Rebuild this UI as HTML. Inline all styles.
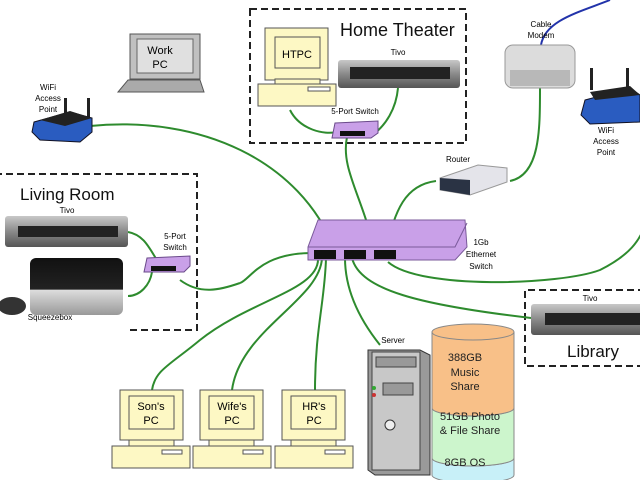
<!DOCTYPE html>
<html><head><meta charset="utf-8"><style>
html,body{margin:0;padding:0;background:#fff;}
svg{display:block;font-family:"Liberation Sans",sans-serif;}
</style></head><body>
<svg width="640" height="480" viewBox="0 0 640 480" xmlns="http://www.w3.org/2000/svg">
<defs>
<linearGradient id="tivo" x1="0" y1="0" x2="0" y2="1"><stop offset="0" stop-color="#c8c8c8"/><stop offset="0.5" stop-color="#8a8a8a"/><stop offset="1" stop-color="#555"/></linearGradient>
<linearGradient id="sq" x1="0" y1="0" x2="0" y2="1"><stop offset="0" stop-color="#111"/><stop offset="0.55" stop-color="#222"/><stop offset="0.56" stop-color="#ddd"/><stop offset="1" stop-color="#999"/></linearGradient>
</defs>
<!-- dashed boxes -->
<g fill="none" stroke="#222" stroke-width="2" stroke-dasharray="7,4">
<rect x="250" y="9" width="216" height="134"/>
<path d="M-5 174 H197 V330 H128"/>
<path d="M645 290 H525 V366 H645"/>
</g>
<!-- wires -->
<g fill="none" stroke="#2e8b2e" stroke-width="2">
<path d="M90 126 C200 115 300 160 335 250"/>
<path d="M347 137 C340 170 365 200 375 255"/>
<path d="M290 110 C300 130 325 135 336 132"/>
<path d="M398 88 C396 110 385 125 375 133"/>
<path d="M436 181 C405 185 395 210 386 250"/>
<path d="M540 88 C540 130 540 175 510 181"/>
<path d="M388 262 C420 290 560 285 600 270 C630 255 640 240 645 225"/>
<path d="M312 253 C260 253 250 280 240 283"/>
<path d="M240 283 C220 290 200 295 180 280"/>
<path d="M128 232 C145 235 150 250 160 265"/>
<path d="M128 296 C140 296 150 285 152 272"/>
<path d="M318 258 C320 290 250 300 200 340 C170 365 155 370 152 390"/>
<path d="M322 258 C320 300 240 330 232 390"/>
<path d="M326 258 C325 300 315 330 315 390"/>
<path d="M345 258 C345 290 360 320 380 345"/>
<path d="M352 258 C360 290 420 305 531 318"/>
<path d="M541 45 C545 20 580 12 610 0"  stroke="#2233aa"/>
</g>
<!-- Home theater -->
<text x="340" y="36" font-size="18" fill="#111">Home Theater</text>
<rect x="265" y="28" width="63" height="52" fill="#fdf8c4" stroke="#555"/>
<rect x="275" y="37" width="45" height="31" fill="#fdf8c4" stroke="#555"/>
<text x="297" y="58" font-size="11" text-anchor="middle">HTPC</text>
<rect x="275" y="79" width="45" height="5" fill="#fdf8c4" stroke="#555"/>
<rect x="258" y="84" width="78" height="22" fill="#fdf8c4" stroke="#555"/>
<rect x="308" y="87" width="22" height="4" fill="#fff" stroke="#555"/>
<text x="398" y="55" font-size="8" text-anchor="middle">Tivo</text>
<rect x="338" y="60" width="122" height="28" rx="3" fill="url(#tivo)"/>
<rect x="350" y="67" width="100" height="12" fill="#222"/>
<text x="355" y="114" font-size="8" text-anchor="middle">5-Port Switch</text>
<path d="M335 123 L378 121 L378 133 L371 138 L332 138 Z" fill="#c9a0e8" stroke="#6a4a8a"/>
<rect x="340" y="131" width="25" height="5" fill="#111"/>
<!-- Cable modem -->
<text x="541" y="27" font-size="8" text-anchor="middle">Cable</text>
<text x="541" y="38" font-size="8" text-anchor="middle">Modem</text>
<rect x="505" y="45" width="70" height="43" rx="8" fill="#dcdcdc" stroke="#999"/>
<rect x="510" y="70" width="60" height="16" fill="#b8b8b8"/>
<!-- WiFi right -->
<rect x="590" y="68" width="3" height="22" fill="#222"/><rect x="626" y="68" width="3" height="22" fill="#222"/>
<path d="M585 100 L630 88 L640 95 L640 122 L590 124 L581 115 Z" fill="#2a5cc0" stroke="#112"/>
<path d="M590 92 L630 86 L640 95 L595 100 Z" fill="#222"/>
<text x="606" y="133" font-size="8" text-anchor="middle">WiFi</text>
<text x="606" y="144" font-size="8" text-anchor="middle">Access</text>
<text x="606" y="155" font-size="8" text-anchor="middle">Point</text>
<!-- Router -->
<text x="458" y="162" font-size="8" text-anchor="middle">Router</text>
<path d="M440 178 L478 165 L507 168 L507 182 L470 195 L440 190 Z" fill="#e4e4ea" stroke="#999"/>
<path d="M440 178 L470 180 L470 195 L440 190 Z" fill="#2a3344"/>
<!-- Main switch -->
<path d="M318 220 L465 220 L467 247 L455 260 L308 260 L308 247 Z" fill="#c9a0e8" stroke="#7a5a9a"/>
<path d="M308 247 L455 247 L467 223" fill="none" stroke="#7a5a9a"/>
<rect x="314" y="250" width="22" height="9" fill="#111"/>
<rect x="344" y="250" width="22" height="9" fill="#111"/>
<rect x="374" y="250" width="22" height="9" fill="#111"/>
<text x="481" y="245" font-size="8" text-anchor="middle">1Gb</text>
<text x="481" y="257" font-size="8" text-anchor="middle">Ethernet</text>
<text x="481" y="269" font-size="8" text-anchor="middle">Switch</text>
<!-- Work PC -->
<rect x="130" y="34" width="70" height="45" fill="#c0c0c0" stroke="#555"/>
<rect x="137" y="39" width="56" height="34" fill="#e0e0e0" stroke="#666"/>
<text x="160" y="54" font-size="11" text-anchor="middle">Work</text>
<text x="160" y="68" font-size="11" text-anchor="middle">PC</text>
<path d="M128 80 L200 80 L204 92 L118 92 Z" fill="#aaa" stroke="#555"/>
<!-- WiFi left -->
<text x="48" y="90" font-size="8" text-anchor="middle">WiFi</text>
<text x="48" y="101" font-size="8" text-anchor="middle">Access</text>
<text x="48" y="112" font-size="8" text-anchor="middle">Point</text>
<rect x="64" y="98" width="3" height="20" fill="#222"/><rect x="87" y="98" width="3" height="20" fill="#222"/>
<path d="M34 122 L70 112 L92 118 L92 132 L80 142 L40 140 L32 132 Z" fill="#2a5cc0" stroke="#112"/>
<path d="M40 120 L70 111 L92 118 L65 126 Z" fill="#222"/>
<!-- Living room -->
<text x="20" y="200" font-size="17" fill="#111">Living Room</text>
<text x="67" y="213" font-size="8" text-anchor="middle">Tivo</text>
<rect x="5" y="216" width="123" height="31" rx="3" fill="url(#tivo)"/>
<rect x="18" y="226" width="100" height="11" fill="#222"/>
<rect x="30" y="258" width="93" height="57" rx="6" fill="url(#sq)"/>
<ellipse cx="12" cy="306" rx="14" ry="9" fill="#333"/>
<text x="50" y="320" font-size="8" text-anchor="middle">Squeezebox</text>
<text x="175" y="239" font-size="8" text-anchor="middle">5-Port</text>
<text x="175" y="250" font-size="8" text-anchor="middle">Switch</text>
<path d="M147 258 L190 256 L190 266 L184 272 L144 272 Z" fill="#c9a0e8" stroke="#6a4a8a"/>
<rect x="151" y="266" width="25" height="5" fill="#111"/>
<!-- PCs -->
<g fill="#fdf8c4" stroke="#555">
<rect x="120" y="390" width="63" height="50"/><rect x="129" y="396" width="45" height="33"/><rect x="129" y="440" width="45" height="6"/><rect x="112" y="446" width="78" height="22"/><rect x="162" y="450" width="20" height="4" fill="#fff"/>
<rect x="200" y="390" width="63" height="50"/><rect x="209" y="396" width="45" height="33"/><rect x="209" y="440" width="45" height="6"/><rect x="193" y="446" width="78" height="22"/><rect x="243" y="450" width="20" height="4" fill="#fff"/>
<rect x="282" y="390" width="63" height="50"/><rect x="291" y="396" width="45" height="33"/><rect x="291" y="440" width="45" height="6"/><rect x="275" y="446" width="78" height="22"/><rect x="325" y="450" width="20" height="4" fill="#fff"/>
</g>
<g font-size="11" text-anchor="middle">
<text x="151" y="410">Son's</text><text x="151" y="424">PC</text>
<text x="232" y="410">Wife's</text><text x="232" y="424">PC</text>
<text x="314" y="410">HR's</text><text x="314" y="424">PC</text>
</g>
<!-- Server -->
<text x="393" y="343" font-size="8" text-anchor="middle">Server</text>
<path d="M368 350 L420 350 L430 355 L430 475 L375 475 L368 470 Z" fill="#9a9a9a" stroke="#333"/>
<rect x="372" y="352" width="48" height="118" fill="#c8c8c8" stroke="#444"/>
<rect x="376" y="357" width="40" height="10" fill="#999" stroke="#444"/>
<rect x="383" y="383" width="30" height="12" fill="#999" stroke="#444"/>
<circle cx="374" cy="388" r="2" fill="#3a3"/><circle cx="374" cy="395" r="2" fill="#c33"/>
<circle cx="390" cy="425" r="5" fill="#eee" stroke="#333"/>
<!-- Cylinder -->
<path d="M432 458 V475 A41 8 0 0 0 514 475 V458 Z" fill="#c8f0f8" stroke="#888"/>
<ellipse cx="473" cy="458" rx="41" ry="8" fill="#c8f0f8" stroke="#888"/>
<path d="M432 408 V458 A41 8 0 0 0 514 458 V408 Z" fill="#ccf5cc" stroke="#888"/>
<ellipse cx="473" cy="408" rx="41" ry="8" fill="#ccf5cc" stroke="#888"/>
<path d="M432 332 V408 A41 8 0 0 0 514 408 V332 Z" fill="#f8c088" stroke="#888"/>
<ellipse cx="473" cy="332" rx="41" ry="8" fill="#f8c088" stroke="#888"/>
<g font-size="11" text-anchor="middle" fill="#222">
<text x="465" y="361">388GB</text><text x="465" y="376">Music</text><text x="465" y="390">Share</text>
<text x="470" y="420">51GB Photo</text><text x="470" y="434">&amp; File Share</text>
<text x="465" y="466">8GB OS</text>
</g>
<!-- Library -->
<text x="590" y="301" font-size="8" text-anchor="middle">Tivo</text>
<rect x="531" y="304" width="115" height="31" rx="3" fill="url(#tivo)"/>
<rect x="545" y="313" width="100" height="12" fill="#222"/>
<text x="567" y="357" font-size="17" fill="#111">Library</text>
</svg>
</body></html>
